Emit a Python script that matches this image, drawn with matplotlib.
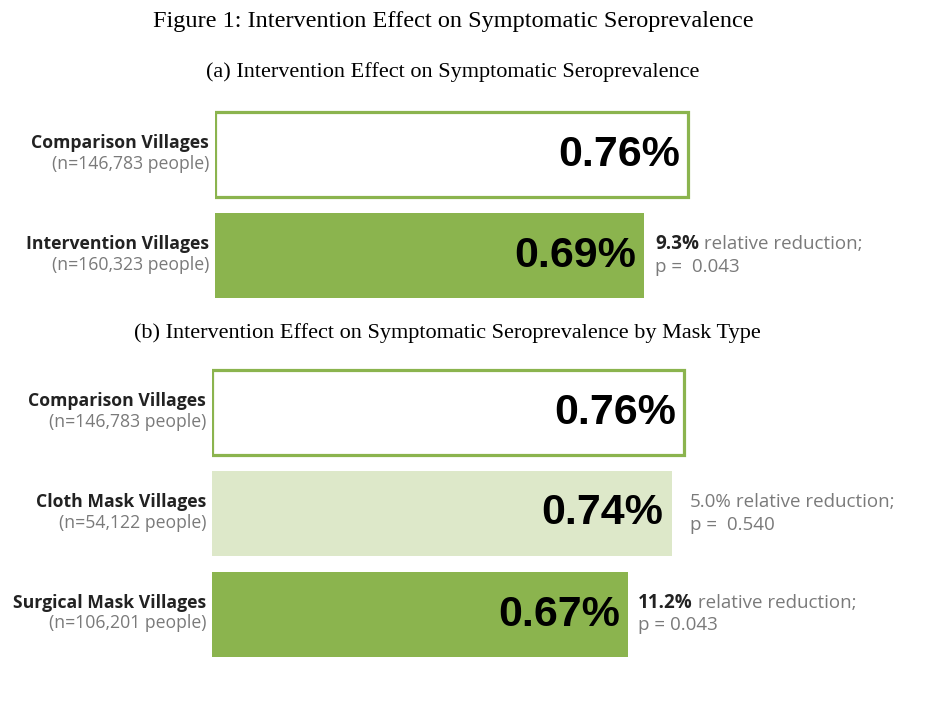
"""
Figure 1: intervention effect on symptomatic seroprevalence.
Two horizontal bar panels (overall and by mask type) drawn with barh.
"""

import matplotlib

matplotlib.use("Agg")
import matplotlib.pyplot as plt  # noqa: E402

# Panel (a)
a_labels = ["Comparison Villages", "Intervention Villages"]
a_counts = ["146,783", "160,323"]
a_values = [0.76, 0.69]
a_reduction = [None, "9.3%"]
a_pvalue = [None, "p =  0.043"]

# Panel (b)
b_labels = ["Comparison Villages", "Cloth Mask Villages", "Surgical Mask Villages"]
b_counts = ["146,783", "54,122", "106,201"]
b_values = [0.76, 0.74, 0.67]
b_reduction = [None, "5.0%", "11.2%"]
b_pvalue = [None, "p =  0.540", "p = 0.043"]
b_significant = [None, False, True]

GREEN = "#8bb44e"
LIGHT_GREEN = "#dde8c9"
GREY = "#7a7a7a"
SANS = ["Open Sans", "DejaVu Sans"]
W, H = 936, 702

fig = plt.figure(figsize=(W / 100, H / 100), dpi=100)
fig.patch.set_facecolor("white")


def px_axes(left, top, right, bottom):
    return fig.add_axes([left / W, 1 - bottom / H, (right - left) / W, (bottom - top) / H])


def draw_panel(ax, labels, counts, values, fills, reductions, pvalues, bold_flags, gap):
    ypos = list(range(len(values)))
    for y, v, fill in zip(ypos, values, fills):
        if fill == "outline":
            ax.barh(y, v, height=0.84, color="white", edgecolor=GREEN, linewidth=2.3)
        else:
            ax.barh(y, v, height=0.84, color=fill, edgecolor="none")
        ax.annotate(f"{v:.2f}%", xy=(v, y), xytext=(-8, 0), textcoords="offset pixels",
                    ha="right", va="center", fontsize=31, fontweight="bold",
                    family=["Liberation Sans", "DejaVu Sans"], color="black")

    for y, lab, n in zip(ypos, labels, counts):
        ax.annotate(lab, xy=(0, y), xytext=(-6, 12), textcoords="offset pixels",
                    ha="right", va="center", fontsize=12.7, fontweight="bold",
                    family=SANS, color="#222222")
        ax.annotate(f"(n={n} people)", xy=(0, y), xytext=(-6, -9), textcoords="offset pixels",
                    ha="right", va="center", fontsize=12.7, family=SANS, color=GREY)

    # note beside the bar: bold/grey percentage, then grey rest, sharing a baseline
    for y, v, red, p, bold, g in zip(ypos, values, reductions, pvalues, bold_flags, gap):
        if red is None:
            continue
        t1 = ax.annotate(red, xy=(v, y), xytext=(g, 7), textcoords="offset pixels",
                         ha="left", va="baseline", fontsize=13.5,
                         fontweight="bold" if bold else "normal",
                         family=SANS, color="#222222" if bold else GREY)
        ax.annotate(" relative reduction;", xy=(1, y), xycoords=(t1, "data"),
                    xytext=(0, 7), textcoords="offset pixels",
                    ha="left", va="baseline", fontsize=13.5, family=SANS, color=GREY)
        ax.annotate(p, xy=(v, y), xytext=(g, -16), textcoords="offset pixels",
                    ha="left", va="baseline", fontsize=13.5, family=SANS, color=GREY)

    ax.set_ylim(len(values) - 0.5, -0.5)
    ax.axis("off")


# panel (a): bars start at x=215 px, 0.76 ends at x=688 px
ax_a = px_axes(215, 104, 936, 306.5)
ax_a.set_xlim(0, 0.76 * (936 - 215) / 473)
draw_panel(ax_a, a_labels, a_counts, a_values, ["outline", GREEN],
           a_reduction, a_pvalue, [None, True], [None, 11])

# panel (b): bars start at x=212 px, 0.76 ends at x=684 px
ax_b = px_axes(212, 362, 936, 665)
ax_b.set_xlim(0, 0.76 * (936 - 212) / 472)
draw_panel(ax_b, b_labels, b_counts, b_values, ["outline", LIGHT_GREEN, GREEN],
           b_reduction, b_pvalue, b_significant, [None, 18, 10])

serif = ["Liberation Serif", "DejaVu Serif"]
fig.text(453 / W, 1 - 22 / H, "Figure 1: Intervention Effect on Symptomatic Seroprevalence",
         ha="center", va="center", fontsize=17.5, family=serif)
fig.text(453 / W, 1 - 72 / H, "(a) Intervention Effect on Symptomatic Seroprevalence",
         ha="center", va="center", fontsize=16, family=serif)
fig.text(447.5 / W, 1 - 333 / H, "(b) Intervention Effect on Symptomatic Seroprevalence by Mask Type",
         ha="center", va="center", fontsize=16, family=serif)

fig.savefig("out.png", dpi=100, facecolor="white")
